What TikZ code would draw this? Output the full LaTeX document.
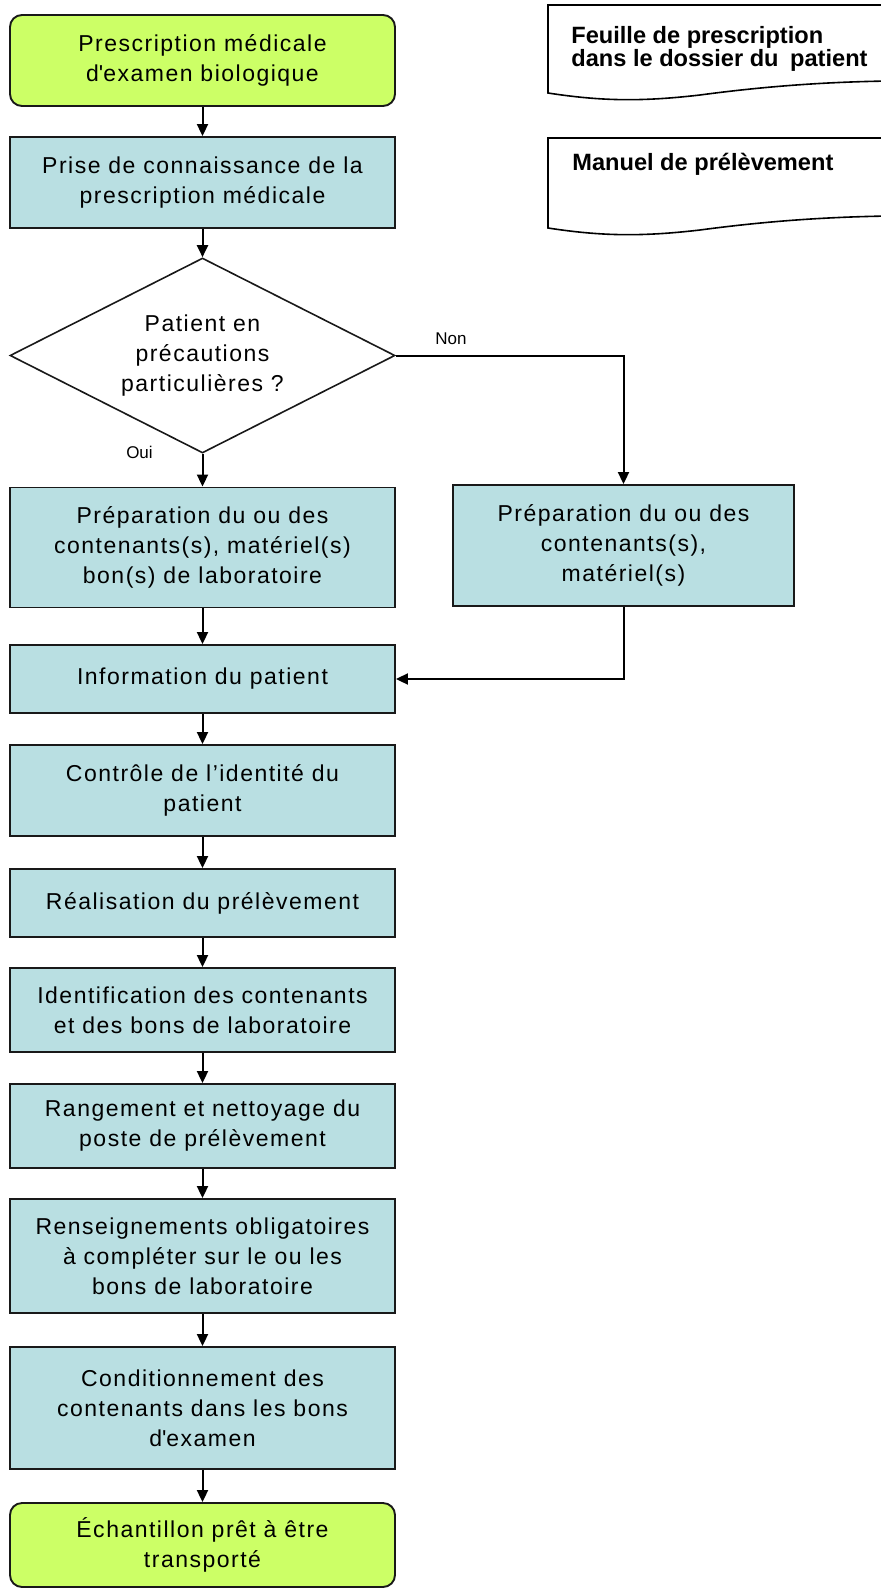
\documentclass[tikz,border=0pt]{standalone}
\usepackage{fontspec}
\setmainfont{Liberation Sans}
\newfontfamily\boxfont[LetterSpace=6.5]{Liberation Sans}
\usepackage{tikz}
\usetikzlibrary{ shapes.geometric, % For the diamond
                 arrows.meta,      % For the arrow tips
               }

\definecolor{startgreen}{RGB}{204,255,102}
\definecolor{stepblue}{RGB}{185,223,226}

\tikzset{
  base/.style={draw=black!90, line width=0.95pt, align=center, inner sep=0pt,
               minimum width=192.5pt, font=\boxfont\fontsize{11.5}{15}\selectfont},
  endbox/.style={base, fill=startgreen, rounded corners=6pt},
  procbox/.style={base, fill=stepblue},
  decision/.style={base, diamond, aspect=2, minimum height=97.5pt, line width=0.8pt},
  flow/.style={-{Triangle[width=5.5pt,length=6pt]}, line width=1pt},
  tag/.style={font=\fontsize{8.5}{10}\selectfont},
  doctext/.style={anchor=west, align=left, inner sep=0pt,
                  font=\bfseries\fontsize{11.8}{11.5}\selectfont},
}

\begin{document}
\begin{tikzpicture}[x=0.5pt, y=-0.5pt]
    \useasboundingbox (0,0) rectangle (880,1589);

    \draw[line width=0.8pt, fill=white] (548,5) -- (890,5) -- (890,81)
        .. controls (820,82) and (760,87) .. (700,95)
        .. controls (640,102) and (600,101) .. (548,93) -- cycle;
    \node[doctext] (feuille) at (571,49) {Feuille de prescription\\dans le dossier du\hspace{2.5pt} patient};
    \draw[line width=0.8pt, fill=white] (548,138) -- (890,138) -- (890,216)
        .. controls (820,217) and (760,222) .. (700,230)
        .. controls (640,237) and (600,236) .. (548,228) -- cycle;
    \node[doctext] (manuel) at (572,164) {Manuel de prélèvement};

    \node[endbox, minimum height=45.5pt] (start) at (202.5,60.5) {Prescription médicale\\d\textquotesingle examen biologique};
    \node[procbox, minimum height=45.5pt] (prise) at (202.5,182.5) {Prise de connaissance de la\\prescription médicale};
    \node[decision] (dec) at (202.5,355.5) {Patient en\\précautions\\particulières ?};
    \node[procbox, minimum height=60pt] (prepA) at (202.5,547.5) {Préparation du ou des\\contenants(s), matériel(s)\\bon(s) de laboratoire};
    \node[procbox, minimum width=170.5pt, minimum height=60.5pt] (prepB) at (623.5,545.5) {Préparation du ou des\\contenants(s),\\matériel(s)};
    \node[procbox, minimum height=34pt] (info) at (202.5,679) {Information du patient};
    \node[procbox, minimum height=45.5pt] (controle) at (202.5,790.5) {Contrôle de l’identité du\\patient};
    \node[procbox, minimum height=34pt] (realis) at (202.5,903) {Réalisation du prélèvement};
    \node[procbox, minimum height=42pt] (ident) at (202.5,1010) {Identification des contenants\\et des bons de laboratoire};
    \node[procbox, minimum height=42pt] (range) at (202.5,1126) {Rangement et nettoyage du\\poste de prélèvement};
    \node[procbox, minimum height=57pt] (renseig) at (202.5,1256) {Renseignements obligatoires\\à compléter sur le ou les\\bons de laboratoire};
    \node[procbox, minimum height=61pt] (condit) at (202.5,1408) {Conditionnement des\\contenants dans les bons\\d\textquotesingle examen};
    \node[endbox, minimum height=42pt] (final) at (202.5,1545) {Échantillon prêt à être\\transporté};

    \node[tag] (non) at (451,339) {Non};
    \node[tag] (oui) at (139.5,452) {Oui};

    \draw[flow] (start) -- (prise);
    \draw[flow] (prise) -- (dec);
    \draw[flow] (dec.south) -- (prepA);
    \draw[flow] (dec.east) -| (prepB);
    \draw[flow] (prepA) -- (info);
    \draw[flow] (prepB) |- (info);
    \draw[flow] (info) -- (controle);
    \draw[flow] (controle) -- (realis);
    \draw[flow] (realis) -- (ident);
    \draw[flow] (ident) -- (range);
    \draw[flow] (range) -- (renseig);
    \draw[flow] (renseig) -- (condit);
    \draw[flow] (condit) -- (final);
  \end{tikzpicture}
\end{document}
